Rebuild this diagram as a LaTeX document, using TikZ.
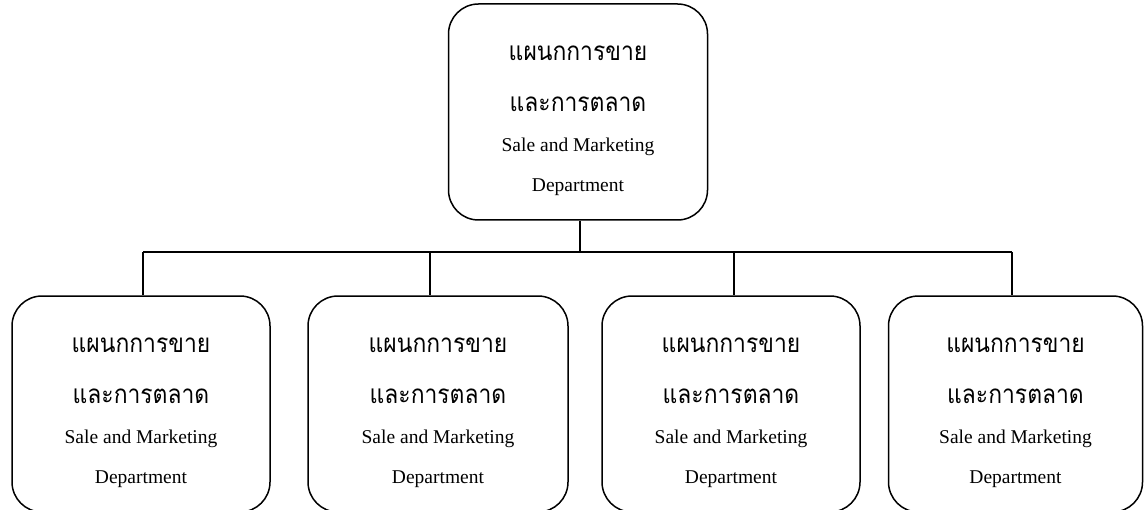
\documentclass[tikz,border=0pt]{standalone}
\usepackage{fontspec}
\setmainfont{Liberation Serif}
\newfontfamily\thaifont[Script=Thai,FakeStretch=0.88]{Loma}
\usetikzlibrary{calc}

\tikzset{
  x=1pt, y=1pt,
  deptbox/.style={draw, line width=1.5pt, rounded corners=30pt,
    minimum width=#1, minimum height=216pt, inner sep=0pt},
  thaitext/.style={font=\thaifont\fontsize{26}{30}\selectfont, anchor=base, inner sep=0pt},
  entext/.style={font=\fontsize{19.5}{22}\selectfont, anchor=base, inner sep=0pt},
  link/.style={line width=1.5pt}
}

% four lines of text inside a department box
\newcommand\deptlabels[1]{%
  \node[thaitext] (#1-th1) at ($(#1.north)+(0,-57)$) {แผนกการขาย};
  \node[thaitext] (#1-th2) at ($(#1.north)+(0,-108)$) {และการตลาด};
  \node[entext] (#1-en1) at ($(#1.north)+(0,-148)$) {Sale and Marketing};
  \node[entext] (#1-en2) at ($(#1.north)+(0,-188)$) {Department};
}

\begin{document}
\begin{tikzpicture}
  \useasboundingbox (0,0) rectangle (1147,-510);

  % head department
  \node[deptbox=259pt] (top) at (578,-112) {};
  \deptlabels{top}

  % sub departments
  \node[deptbox=258pt] (d1) at (141,-404) {};
  \node[deptbox=260pt] (d2) at (438,-404) {};
  \node[deptbox=258pt] (d3) at (731,-404) {};
  \node[deptbox=254pt] (d4) at (1015.5,-404) {};
  \deptlabels{d1}
  \deptlabels{d2}
  \deptlabels{d3}
  \deptlabels{d4}

  % connector bus
  \coordinate (j)  at (580,-252);
  \coordinate (t1) at (143,-252);
  \coordinate (t2) at (430,-252);
  \coordinate (t3) at (734,-252);
  \coordinate (t4) at (1012,-252);
  \draw[link] ([xshift=2pt]top.south) -- (j);
  \draw[link] (t1) -- (t4);
  \draw[link] (t1) -- (t1 |- d1.north);
  \draw[link] (t2) -- (t2 |- d2.north);
  \draw[link] (t3) -- (t3 |- d3.north);
  \draw[link] (t4) -- (t4 |- d4.north);
\end{tikzpicture}
\end{document}
